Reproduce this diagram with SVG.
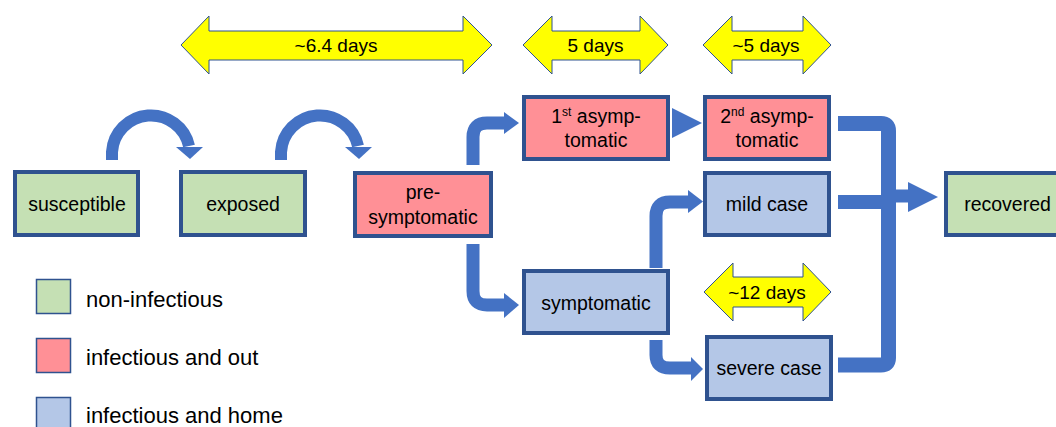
<svg xmlns="http://www.w3.org/2000/svg" width="1056" height="427" viewBox="0 0 1056 427">
<style>
.n rect{stroke:#2F528F;stroke-width:4}
.g{fill:#C5E0B4}.r{fill:#FF9096}.b{fill:#B4C7E7}
text{font-family:"Liberation Sans",Arial,sans-serif;fill:#000}
.t{font-size:19.5px;text-anchor:middle}
.d{font-size:19px;text-anchor:middle}
.l{font-size:22px}
.c{fill:none;stroke:#4472C4;stroke-linecap:butt}
.h{fill:#4472C4}
.y{fill:#FFFF00;stroke:#2F528F;stroke-width:1}
.k{stroke:#2F528F;stroke-width:1.5}
</style>
<rect width="1056" height="427" fill="#fff"/>
<g id="connectors">
<path class="c" stroke-width="12" d="M112,160 L112,152 A39,39 0 0 1 189,146"/>
<polygon class="h" points="176,147 203,147 190,159"/>
<path class="c" stroke-width="12" d="M281,160 L281,152 A39,39 0 0 1 358,146"/>
<polygon class="h" points="345,147 372,147 359,159"/>
<path class="c" stroke-width="13" d="M473,165 L473,137 Q473,123 487,123 L505,123"/>
<polygon class="h" points="504,112 519,123 504,134"/>
<path class="c" stroke-width="13" d="M473,244 L473,291 Q473,305 487,305 L505,305"/>
<polygon class="h" points="504,293 519,305 504,318"/>
<path class="c" stroke-width="13" d="M656,268 L656,216 Q656,202 670,202 L689,202"/>
<polygon class="h" points="688,190 703,201.5 688,213"/>
<path class="c" stroke-width="13" d="M656,340 L656,355 Q656,368 670,368 L692,368"/>
<polygon class="h" points="691,357 703,369 691,381"/>
<polygon class="h" points="672,108 702,123 672,138"/>
<path class="c" stroke-width="15" d="M838,123.5 L881,123.5 Q888.5,123.5 888.5,131 L888.5,358 Q888.5,365 881,365 L838,365"/>
<path class="c" stroke-width="14" d="M838,202 L888,202"/>
<path class="c" stroke-width="13" d="M888,196 L909,196"/>
<polygon class="h" points="908,182 938,197 908,212"/>
</g>
<g id="dur1"><polygon class="y" points="181,45 209,16 209,31 463,31 463,16 492,45 463,74 463,60 209,60 209,74"/><text class="d" x="336" y="52">~6.4 days</text></g>
<g id="dur2"><polygon class="y" points="523,45 552,16 552,31 640,31 640,16 668,45 640,74 640,60 552,60 552,74"/><text class="d" x="595.5" y="52">5 days</text></g>
<g id="dur3"><polygon class="y" points="703,45 732,16 732,31 803,31 803,16 831,45 803,74 803,60 732,60 732,74"/><text class="d" x="766" y="52">~5 days</text></g>
<g id="dur4"><polygon class="y" points="704,292 733,263 733,277 803,277 803,263 831,292 803,321 803,307 733,307 733,321"/><text class="d" x="767" y="299">~12 days</text></g>
<g id="susceptible" class="n"><rect class="g" x="15" y="172" width="123" height="63"/><text class="t" x="77" y="211">susceptible</text></g>
<g id="exposed" class="n"><rect class="g" x="181" y="172" width="124" height="63"/><text class="t" x="243" y="211">exposed</text></g>
<g id="presymptomatic" class="n"><rect class="r" x="355" y="173" width="136" height="63"/><text class="t" x="423" y="199">pre-</text><text class="t" x="423" y="224">symptomatic</text></g>
<g id="asymp1" class="n"><rect class="r" x="524" y="97" width="144" height="62"/><text class="t" x="596" y="122.5">1<tspan font-size="12" dy="-7">st</tspan><tspan dy="7"> asymp-</tspan></text><text class="t" x="596" y="147">tomatic</text></g>
<g id="asymp2" class="n"><rect class="r" x="705" y="97" width="124" height="62"/><text class="t" x="767" y="122.5">2<tspan font-size="12" dy="-7">nd</tspan><tspan dy="7"> asymp-</tspan></text><text class="t" x="767" y="147">tomatic</text></g>
<g id="mild" class="n"><rect class="b" x="705" y="173" width="124" height="62"/><text class="t" x="767" y="211">mild case</text></g>
<g id="symptomatic" class="n"><rect class="b" x="524" y="271" width="144" height="62"/><text class="t" x="596" y="310">symptomatic</text></g>
<g id="severe" class="n"><rect class="b" x="707" y="337" width="124" height="62"/><text class="t" x="769" y="375">severe case</text></g>
<g id="recovered" class="n"><rect class="g" x="946" y="173" width="120" height="62"/><text class="t" x="1007.5" y="211">recovered</text></g>
<g id="legend">
<rect class="g k" x="36.5" y="279.5" width="34" height="34"/><text class="l" x="86" y="307">non-infectious</text>
<rect class="r k" x="36.5" y="338.5" width="34" height="34"/><text class="l" x="86" y="365">infectious and out</text>
<rect class="b k" x="36.5" y="397.5" width="34" height="34"/><text class="l" x="86" y="423">infectious and home</text>
</g>
</svg>
